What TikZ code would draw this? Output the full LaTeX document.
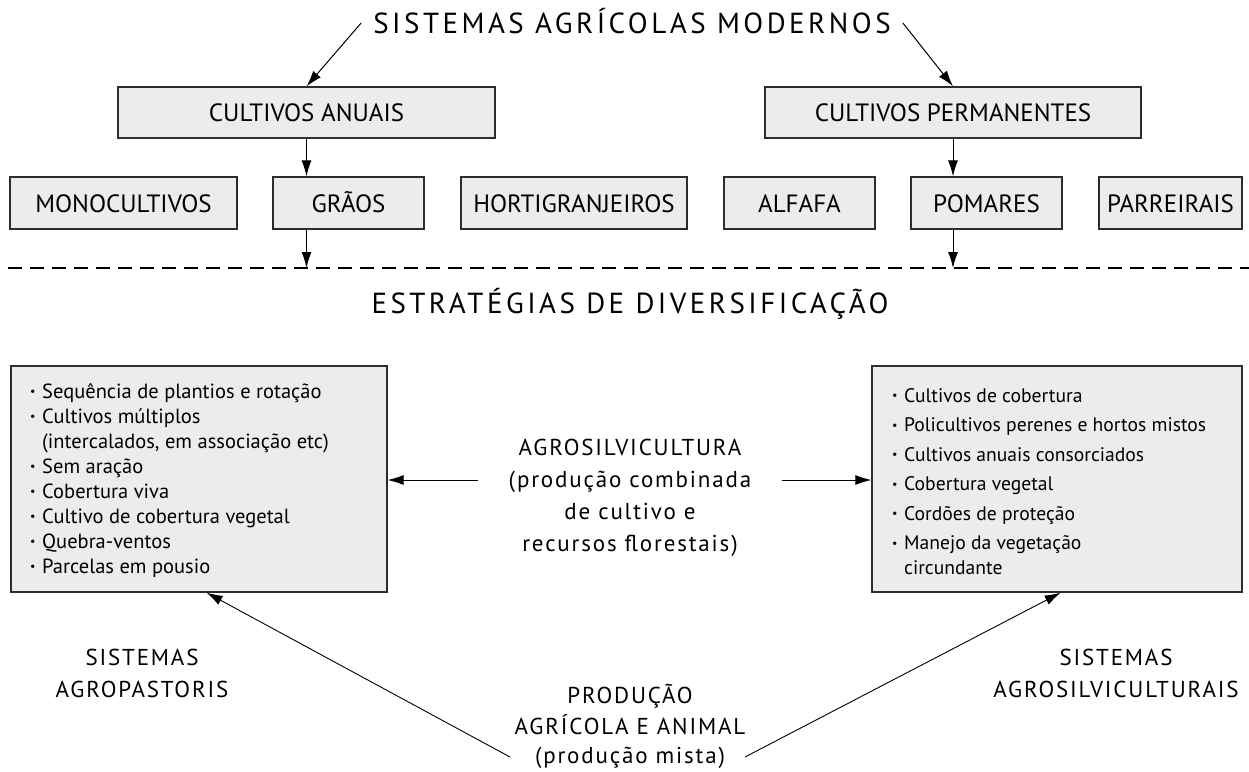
\documentclass[tikz,border=0pt]{standalone}
\usepackage{fontspec}
\setmainfont{PT Sans}
\newfontfamily\trk{PT Sans}[LetterSpace=12]
\newfontfamily\trkm{PT Sans}[LetterSpace=8]
\usetikzlibrary{arrows.meta,calc}
\definecolor{boxgray}{RGB}{235,236,235}
\definecolor{edge}{RGB}{45,45,45}
\newcommand\mybul{\makebox[12pt][l]{\raisebox{2.5pt}{\fontsize{12}{12}\selectfont•}}}
\begin{document}
\begin{tikzpicture}[x=1pt,y=-1pt,
  box/.style={draw=edge, line width=1.3pt, fill=boxgray, inner sep=0pt,
    text height=18pt, text depth=0pt, font=\fontsize{25}{30}\selectfont},
  listbox/.style={draw=edge, line width=1.3pt, fill=boxgray, inner sep=0pt},
  li/.style={anchor=base west, inner sep=0pt, font=\fontsize{20.5}{25}\selectfont},
  ri/.style={anchor=base west, inner sep=0pt, font=\fontsize{19.6}{25}\selectfont},
  big/.style={font=\trk\fontsize{29}{32}\selectfont},
  mid/.style={anchor=base, inner sep=0pt, font=\trkm\fontsize{23}{32}\selectfont},
  arr/.style={-{Latex[length=16pt,width=10pt]}, line width=1pt},
  dashline/.style={line width=2pt, dash pattern=on 14pt off 8pt}
 ]
\path[fill=white, use as bounding box] (0,0) rectangle (1249,771);

% top
\node[big, inner sep=12pt, text height=20pt, text depth=0pt, anchor=base] (title) at (632,33) {SISTEMAS AGRÍCOLAS MODERNOS};
\node[box, minimum width=377pt, minimum height=51pt] (anuais) at (306.5,112.5) {CULTIVOS ANUAIS};
\node[box, minimum width=376pt, minimum height=51pt] (perm) at (953,112.5) {CULTIVOS PERMANENTES};

\node[box, minimum width=227pt, minimum height=52pt] (mono) at (123.5,203) {MONOCULTIVOS};
\node[box, minimum width=151pt, minimum height=52pt] (graos) at (348.5,203) {GRÃOS};
\node[box, minimum width=226pt, minimum height=52pt] (horti) at (574,203) {HORTIGRANJEIROS};
\node[box, minimum width=151pt, minimum height=52pt] (alfafa) at (799.5,203) {ALFAFA};
\node[box, minimum width=151pt, minimum height=52pt] (pomares) at (986.5,203) {POMARES};
\node[box, minimum width=143pt, minimum height=52pt] (parr) at (1170.5,203) {PARREIRAIS};

\draw[arr] (title.west) -- (anuais.north);
\draw[arr] (title.east) -- (perm.north);
\draw[arr] (anuais.south) -- (anuais.south |- graos.north);
\draw[arr] (perm.south) -- (perm.south |- pomares.north);

\coordinate (dl) at (8,268);
\coordinate (dr) at (1249,268);
\draw[dashline] (dl) -- (dr);
\draw[arr] (anuais.south |- graos.south) -- (anuais.south |- dl);
\draw[arr] (perm.south |- pomares.south) -- (perm.south |- dl);

\node[big, anchor=base] (estr) at (630,313) {ESTRATÉGIAS DE DIVERSIFICAÇÃO};

% lower boxes
\node[listbox, minimum width=376pt, minimum height=226pt] (lbox) at (199,479) {};
\node[listbox, minimum width=370pt, minimum height=226pt] (rbox) at (1057,479) {};

\node[li] (l1) at (30,398) {\mybul Sequência de plantios e rotação};
\node[li] (l2) at (30,423) {\mybul Cultivos múltiplos};
\node[li] (l3) at (42,448) {(intercalados, em associação etc)};
\node[li] (l4) at (30,473) {\mybul Sem aração};
\node[li] (l5) at (30,498) {\mybul Cobertura viva};
\node[li] (l6) at (30,523) {\mybul Cultivo de cobertura vegetal};
\node[li] (l7) at (30,548) {\mybul Quebra-ventos};
\node[li] (l8) at (30,573) {\mybul Parcelas em pousio};

\node[ri] (r1) at (892,402) {\mybul Cultivos de cobertura};
\node[ri] (r2) at (892,431.5) {\mybul Policultivos perenes e hortos mistos};
\node[ri] (r3) at (892,461) {\mybul Cultivos anuais consorciados};
\node[ri] (r4) at (892,490.5) {\mybul Cobertura vegetal};
\node[ri] (r5) at (892,520) {\mybul Cordões de proteção};
\node[ri] (r6) at (892,549.5) {\mybul Manejo da vegetação};
\node[ri] (r7) at (904,574) {circundante};

\node[mid] (a1) at (630,455) {AGROSILVICULTURA};
\node[mid] (a2) at (630,487) {(produção combinada};
\node[mid] (a3) at (630,519) {de cultivo e};
\node[mid] (a4) at (630,551) {recursos florestais)};
\coordinate (la) at (478,480);
\coordinate (ra) at (782,480);
\draw[arr] (la) -- (la -| lbox.east);
\draw[arr] (ra) -- (ra -| rbox.west);

% bottom
\node[mid] (p1) at (142,665) {SISTEMAS};
\node[mid] (p2) at (142,697) {AGROPASTORIS};
\node[mid] (s1) at (1116,665) {SISTEMAS};
\node[mid] (s2) at (1116,697) {AGROSILVICULTURAIS};
\node[mid] (m1) at (630,703) {PRODUÇÃO};
\node[mid] (m2) at (630,734) {AGRÍCOLA E ANIMAL};
\node[mid] (m3) at (630,763) {(produção mista)};

\coordinate (pl) at (510,757);
\coordinate (pr) at (745,757);
\draw[arr, line width=0.9pt] (pl) -- ($(lbox.south west)!0.52!(lbox.south east)$);
\draw[arr, line width=0.9pt] (pr) -- ($(rbox.south west)!0.51!(rbox.south east)$);
\end{tikzpicture}
\end{document}
